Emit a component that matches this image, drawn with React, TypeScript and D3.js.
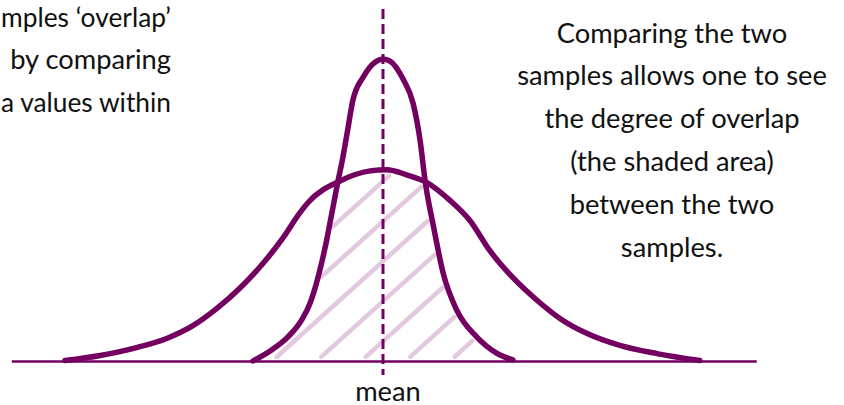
import React from "react";
import * as d3 from "d3";

// curves (x in sd units around the mean, y as relative height)
const wideX = [-4.97, -4.42, -3.85, -3.38, -2.97, -2.6, -2.23, -1.88, -1.56, -1.3, -1.17, -0.67, -0.2, 0.06, 0.37, 0.68, 1.05, 1.36, 1.67, 2.03, 2.41, 2.77, 3.19, 3.7, 4.28, 4.95];
const wideY = [0.003, 0.02, 0.046, 0.076, 0.118, 0.174, 0.243, 0.322, 0.408, 0.49, 0.524, 0.595, 0.628, 0.632, 0.615, 0.59, 0.53, 0.464, 0.365, 0.276, 0.201, 0.141, 0.092, 0.053, 0.026, 0.003];

const narrowX = [-2.03, -1.74, -1.48, -1.27, -1.14, -1.04, -0.96, -0.88, -0.81, -0.75, -0.7, -0.64, -0.56, -0.47, -0.31, -0.1, 0, 0.11, 0.32, 0.47, 0.58, 0.66, 0.79, 0.94, 1.15, 1.46, 1.78, 2.03];
const narrowY = [0.002, 0.038, 0.082, 0.137, 0.192, 0.258, 0.324, 0.4, 0.477, 0.543, 0.598, 0.658, 0.753, 0.861, 0.937, 0.99, 0.997, 0.99, 0.928, 0.851, 0.728, 0.592, 0.444, 0.291, 0.17, 0.082, 0.027, 0.005];

const meanValue = 0;
const axisExtent = [-5.8, 5.84];
const meanLabel = "mean";

const leftNote = ["mples \u2018overlap\u2019", "by comparing", "a values within"];
const rightNote = [
  "Comparing the two",
  "samples allows one to see",
  "the degree of overlap",
  "(the shaded area)",
  "between the two",
  "samples.",
];

const W = 844;
const H = 405;
const PURPLE = "#730060";
const HATCH = "#e2c9df";

const App = () => {
  const svgRef = React.useRef<SVGSVGElement>(null);

  React.useEffect(() => {
    const svg = d3.select(svgRef.current);
    svg.selectAll("*").remove();

    const x = d3.scaleLinear().domain([-6, 6]).range([-1, 767]);
    const y = d3.scaleLinear().domain([0, 1]).range([361.5, 58]);

    const wide = wideX.map((v, i) => ({ x: v, y: wideY[i] }));
    const narrow = narrowX.map((v, i) => ({ x: v, y: narrowY[i] }));

    // piecewise lookups for the overlap test
    const wideAt = d3.scaleLinear().domain(wideX).range(wideY);
    const narrowAt = d3.scaleLinear().domain(narrowX).range(narrowY);
    const inside = (px: number, py: number) => {
      const v = x.invert(px);
      if (v < narrowX[0] || v > narrowX[narrowX.length - 1]) return false;
      if (v < wideX[0] || v > wideX[wideX.length - 1]) return false;
      const top = Math.min(wideAt(v), narrowAt(v));
      return py < y(0) - 1 && py > y(top) + 1;
    };

    // hatching in the shared area
    const slope = 0.9;
    const len = Math.sqrt(1 + slope * slope);
    const inset = 5;
    const hatch = svg.append("g");
    for (let b = 526; b <= 770; b += 40) {
      let first: number | null = null;
      let last: number | null = null;
      for (let px = 240; px <= 530; px += 0.5) {
        if (inside(px, b - slope * px)) {
          if (first === null) first = px;
          last = px;
        }
      }
      if (first === null || last === null) continue;
      const x0 = first + inset / len;
      const x1 = last - inset / len;
      if (x1 <= x0) continue;
      hatch
        .append("line")
        .attr("x1", x0)
        .attr("y1", b - slope * x0)
        .attr("x2", x1)
        .attr("y2", b - slope * x1)
        .attr("stroke", HATCH)
        .attr("stroke-width", 4.5)
        .attr("stroke-linecap", "round");
    }

    // baseline
    svg
      .append("line")
      .attr("x1", x(axisExtent[0]))
      .attr("x2", x(axisExtent[1]))
      .attr("y1", y(0))
      .attr("y2", y(0))
      .attr("stroke", PURPLE)
      .attr("stroke-width", 2.5);

    const line = d3
      .line<{ x: number; y: number }>()
      .x((d) => x(d.x))
      .y((d) => y(d.y))
      .curve(d3.curveMonotoneX);

    [wide, narrow].forEach((series) => {
      svg
        .append("path")
        .attr("d", line(series))
        .attr("fill", "none")
        .attr("stroke", PURPLE)
        .attr("stroke-width", 5.5)
        .attr("stroke-linecap", "round")
        .attr("stroke-linejoin", "round");
    });

    // mean marker
    svg
      .append("line")
      .attr("x1", x(meanValue))
      .attr("x2", x(meanValue))
      .attr("y1", 9)
      .attr("y2", 375)
      .attr("stroke", PURPLE)
      .attr("stroke-width", 3)
      .attr("stroke-dasharray", "10 5");

    const font = "Lato, 'Open Sans', sans-serif";
    const size = 27.3;

    svg
      .append("text")
      .attr("x", x(meanValue) + 5)
      .attr("y", 400.5)
      .attr("text-anchor", "middle")
      .attr("font-family", font)
      .attr("font-size", size)
      .attr("fill", "#111")
      .text(meanLabel);

    const leftRight = 171;
    svg
      .append("g")
      .selectAll("text")
      .data(leftNote)
      .enter()
      .append("text")
      .attr("x", leftRight)
      .attr("y", (_, i) => 26.5 + i * 42.8)
      .attr("text-anchor", "end")
      .attr("font-family", font)
      .attr("font-size", size)
      .attr("fill", "#111")
      .text((d) => d)
      .each(function () {
        // keep the notes inside the left edge
        const t = this as SVGTextElement;
        if (t.getComputedTextLength() > leftRight - 1) {
          t.setAttribute("textLength", String(leftRight - 1));
          t.setAttribute("lengthAdjust", "spacingAndGlyphs");
        }
      });

    svg
      .append("g")
      .selectAll("text")
      .data(rightNote)
      .enter()
      .append("text")
      .attr("x", 672)
      .attr("y", (_, i) => 42.5 + i * 42.8)
      .attr("text-anchor", "middle")
      .attr("font-family", font)
      .attr("font-size", size)
      .attr("fill", "#111")
      .text((d) => d);
  }, []);

  return (
    <svg
      ref={svgRef}
      width={W}
      height={H}
      style={{ position: "absolute", left: 0, top: 0, background: "#fff" }}
    ></svg>
  );
};

export default App;
